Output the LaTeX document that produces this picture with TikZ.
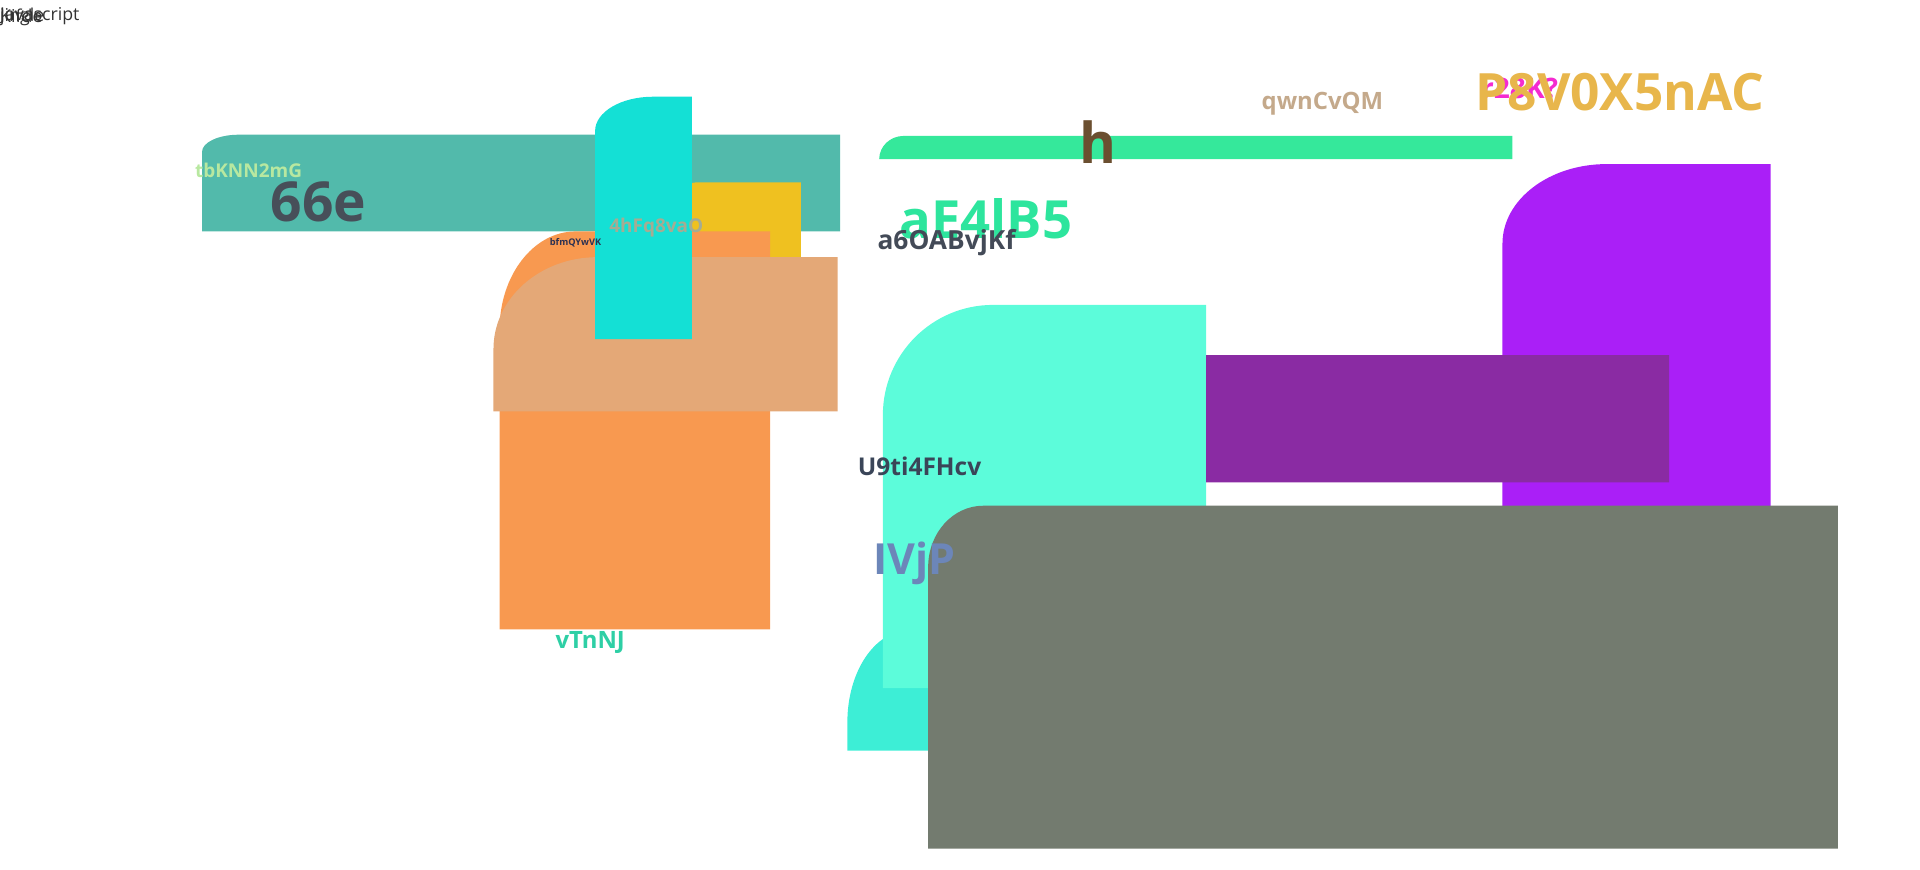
\documentclass[tikz,border=0pt]{standalone}
\usepackage{fontspec}
\setmainfont{Open Sans}
\definecolor{tealbar}{HTML}{52BAAB}
\definecolor{cyanbar}{HTML}{14E0D5}
\definecolor{yellowbox}{HTML}{EFC120}
\definecolor{orangebox}{HTML}{F89950}
\definecolor{tanbox}{HTML}{E4A877}
\definecolor{greenbar}{HTML}{35E89B}
\definecolor{violetbox}{HTML}{AA1FF7}
\definecolor{plumbox}{HTML}{8A2BA3}
\definecolor{mintbox}{HTML}{5CFCDA}
\definecolor{aquabox}{HTML}{3DEED6}
\definecolor{greybox}{HTML}{737B6F}
\definecolor{tbkcol}{HTML}{B8E8A0}
\definecolor{sixcol}{HTML}{474F59}
\definecolor{bfmcol}{HTML}{2B3152}
\definecolor{hfqcol}{HTML}{A5AC93}
\definecolor{vtncol}{HTML}{2ECFA5}
\definecolor{hcol}{HTML}{6B4F30}
\definecolor{qwncol}{HTML}{C4A98B}
\definecolor{r28col}{HTML}{F42BD0}
\definecolor{p8vcol}{HTML}{E8B64B}
\definecolor{ae4col}{HTML}{2DE59D}
\definecolor{a6ocol}{HTML}{434A57}
\definecolor{u9tcol}{HTML}{3A4558}
\definecolor{ivjcol}{HTML}{6C86B9}
% filled box, top left corner elliptic: colour, left, top, right, bottom, rx, ry
\newcommand{\cornerbox}[7]{%
  \fill[#1] (#2,#5) -- (#2,#3+#7) arc[start angle=180, end angle=270, x radius=#6, y radius=#7]
    -- (#4,#3) -- (#4,#5) -- cycle;}

\begin{document}
\begin{tikzpicture} [
          x=1pt, y=-1pt,
          lbl/.style = {inner sep=0pt, font=\fontsize{#1}{#1}\selectfont\bfseries},
          thin lbl/.style = {inner sep=0pt, anchor=west, text=black!80, font=\fontsize{#1}{#1}\selectfont}
          ]
  \useasboundingbox (0,0) rectangle (1568,710);
  % left group
  \cornerbox{tealbar}{165}{110}{686}{189}{30}{14}
  \cornerbox{yellowbox}{560}{149}{654}{260}{8}{6}
  \cornerbox{orangebox}{408}{189}{629}{514}{62}{80}
  \cornerbox{tanbox}{403}{210}{684}{336}{85}{75}
  \cornerbox{cyanbar}{486}{79}{565}{277}{47}{28}
  \node[thin lbl=14.5] (js) at (0,13) {Javascript};
  \node[thin lbl=14.5] (jingle) at (0,14) {jingle};
  \node[thin lbl=14.5] (kifde) at (0,13) {Kifde};
  \node[lbl=15.5, text=tbkcol] (tbk) at (203,139) {tbKNN2mG};
  \node[lbl=45, text=sixcol] (six) at (260,165) {66e};
  \node[lbl=7.5, text=bfmcol] (bfm) at (470,198) {bfmQYwVK};
  \node[lbl=15.5, text=hfqcol] (hfq) at (536,186) {4hFq8vaO};
  \node[lbl=19.5, text=vtncol] (vtn) at (482,525) {vTnNJ};
  % top right group
  \cornerbox{greenbar}{718}{111}{1235}{130}{20}{19}
  \node[lbl=46, text=hcol] (h) at (897,116) {h};
  \node[lbl=19.5, text=qwncol] (qwn) at (1080,85) {qwnCvQM};
  \node[lbl=23, text=r28col] (r28) at (1241,72) {r28K?};
  \node[lbl=42, text=p8vcol] (p8v) at (1323,75) {P8V0X5nAC};
  \node[lbl=43, text=ae4col] (ae4) at (805,179) {aE4lB5};
  \node[lbl=21.5, text=a6ocol] (a6o) at (773,198) {a6OABvjKf};
  % lower right group
  \cornerbox{violetbox}{1227}{134}{1446}{450}{85}{65}
  \cornerbox{aquabox}{692}{515}{800}{613}{50}{75}
  \cornerbox{mintbox}{721}{249}{985}{562}{90}{90}
  \cornerbox{plumbox}{985}{290}{1363}{394}{0.01}{0.01}
  \cornerbox{greybox}{758}{413}{1501}{693}{45}{50}
  \node[lbl=20, text=u9tcol] (u9t) at (751,381) {U9ti4FHcv};
  \node[lbl=35, text=ivjcol] (ivj) at (747,460) {IVjP};
\end{tikzpicture}
\end{document}
